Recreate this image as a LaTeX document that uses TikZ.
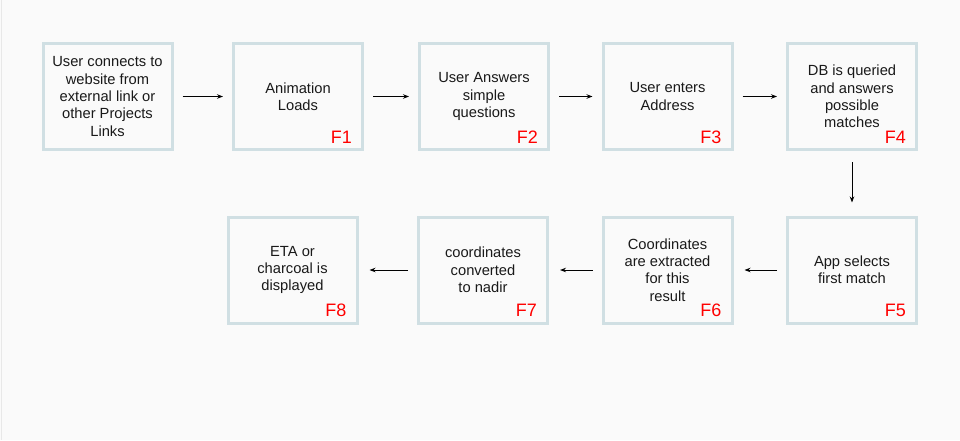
\documentclass[tikz,border=0pt]{standalone}
\usepackage{fontspec}
\setmainfont{Liberation Sans}
\usetikzlibrary{arrows.meta,calc}
\definecolor{bg}{RGB}{250,250,250}
\definecolor{boxline}{RGB}{208,223,227}
\definecolor{flabel}{RGB}{255,0,0}
\definecolor{edgeline}{RGB}{232,232,232}
\begin{document}
\begin{tikzpicture}[x=1pt,y=-1pt,
  stepbox/.style={draw=boxline,line width=3pt,minimum width=129pt,minimum height=106pt,
    align=center,font=\fontsize{14.7pt}{17.4pt}\selectfont,text=black!90,inner sep=0pt},
  flab/.style={text=flabel,font=\fontsize{18pt}{20pt}\selectfont,inner sep=0pt,anchor=base east},
  conn/.style={draw=black,line width=1pt,-{Stealth[length=6pt,width=4.5pt]},shorten <=9pt,shorten >=9pt}]
\fill[bg] (0,0) rectangle (960,440);
\useasboundingbox (0,0) rectangle (960,440);
\draw[edgeline,line width=1pt] (1.5,0) -- (1.5,440);
% top row
\node[stepbox] (b0) at (107.5,96.5) {User connects to\\website from\\external link or\\other Projects\\Links};
\node[stepbox] (b1) at (298,96.5) {Animation\\Loads};
\node[stepbox] (b2) at (484,96.5) {User Answers\\simple\\questions};
\node[stepbox] (b3) at (667.5,96.5) {User enters\\Address};
\node[stepbox] (b4) at (852,96.5) {DB is queried\\and answers\\possible\\matches};
% bottom row
\node[stepbox] (b5) at (852,270) {App selects\\first match};
\node[stepbox] (b6) at (667.5,270) {Coordinates\\are extracted\\for this\\result};
\node[stepbox] (b7) at (483,270) {coordinates\\converted\\to nadir};
\node[stepbox] (b8) at (292.5,270) {ETA or\\charcoal is\\displayed};
% F labels
\foreach \i in {1,...,8}{
  \node[flab] (f\i) at ($(b\i.south east)+(-12,-8)$) {F\i};
}
% connectors
\draw[conn] (b0.east) -- (b1.west);
\draw[conn] (b1.east) -- (b2.west);
\draw[conn] (b2.east) -- (b3.west);
\draw[conn] (b3.east) -- (b4.west);
\draw[conn,shorten <=11pt,shorten >=13pt] (b4.south) -- (b5.north);
\draw[conn,shorten >=11pt] (b5.west) -- (b6.east);
\draw[conn,shorten >=11pt] (b6.west) -- (b7.east);
\draw[conn,shorten >=11pt] (b7.west) -- (b8.east);
\end{tikzpicture}
\end{document}
